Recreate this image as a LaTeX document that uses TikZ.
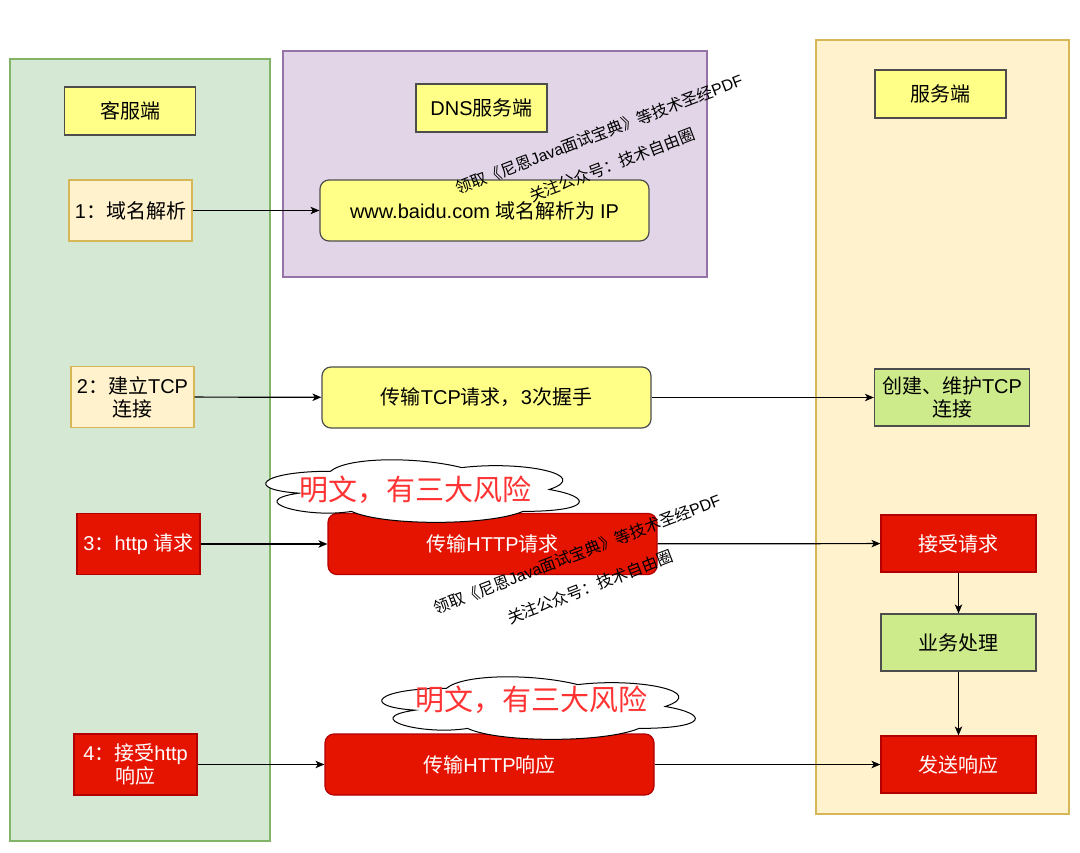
\documentclass[tikz,border=0pt]{standalone}
\usepackage{fontspec}
\setmainfont{Liberation Sans}
\newfontfamily\zhfont{Noto Sans CJK SC}
\XeTeXinterchartokenstate=1
\newXeTeXintercharclass\zhclass
\newcount\zhcode
\newcommand\zhrange[2]{\zhcode=#1
  \loop\XeTeXcharclass\zhcode=\zhclass\ifnum\zhcode<#2\advance\zhcode by 1\repeat}
\zhrange{"3000}{"303F}
\zhrange{"4E00}{"9FFF}
\zhrange{"FF00}{"FFEF}
\XeTeXinterchartoks 0 \zhclass = {\zhfont}
\XeTeXinterchartoks 4095 \zhclass = {\zhfont}
\XeTeXinterchartoks \zhclass 0 = {\rmfamily}
\XeTeXinterchartoks 4095 0 = {\rmfamily}
\usetikzlibrary{arrows.meta}
\definecolor{clientfill}{HTML}{D5E8D4}
\definecolor{clientline}{HTML}{82B366}
\definecolor{dnsfill}{HTML}{E1D5E7}
\definecolor{dnsline}{HTML}{9673A6}
\definecolor{serverfill}{HTML}{FFF2CC}
\definecolor{serverline}{HTML}{D6B656}
\definecolor{headfill}{HTML}{FFFF88}
\definecolor{darkline}{HTML}{4D4D4D}
\definecolor{okgreen}{HTML}{CDEB8B}
\definecolor{riskred}{HTML}{E51400}
\definecolor{riskline}{HTML}{B20000}
\definecolor{warntext}{HTML}{FF3333}

\begin{document}
\begin{tikzpicture}[x=1pt,y=-1pt,line width=1.2pt,
    >={Stealth[length=9pt,width=7.5pt,inset=2.5pt]},
    txt/.style={font=\fontsize{20}{23}\selectfont,inner sep=0pt,align=center},
    headbox/.style={txt,draw=darkline,fill=headfill,minimum width=131pt,minimum height=48pt},
    stepbox/.style={txt,draw=serverline,fill=serverfill,minimum width=123pt,minimum height=61pt},
    pipebox/.style={txt,draw=darkline,fill=headfill,rounded corners=9pt,minimum width=329pt,minimum height=61pt},
    okbox/.style={txt,draw=darkline,fill=okgreen,minimum width=155pt,minimum height=57pt},
    redbox/.style={txt,draw=riskline,fill=riskred,text=white,minimum width=123pt,minimum height=61pt},
    redpipe/.style={redbox,rounded corners=9pt,minimum width=329pt},
    risktext/.style={text=warntext,font=\fontsize{29}{34}\selectfont,inner sep=0pt},
    riskcloud/.pic={
        \filldraw[fill=white,draw=black,line width=1pt] (0.25,0.25)
            .. controls (0.05,0.25) and (0,0.5) .. (0.16,0.55)
            .. controls (0,0.66) and (0.18,0.9) .. (0.31,0.8)
            .. controls (0.4,1) and (0.7,1) .. (0.8,0.8)
            .. controls (1,0.8) and (1,0.6) .. (0.875,0.5)
            .. controls (1,0.3) and (0.8,0.1) .. (0.625,0.2)
            .. controls (0.5,0.05) and (0.3,0.05) .. (0.25,0.25) -- cycle;},
    watermark/.style={font=\fontsize{16}{19}\selectfont,rotate=21,inner sep=0pt},
    link/.style={->,line width=1.2pt,black}]
    \useasboundingbox[fill=white] (0,0) rectangle (1080,853);
    \filldraw[fill=clientfill,draw=clientline] (10,59) rectangle (270,841);
    \filldraw[fill=dnsfill,draw=dnsline] (283,51) rectangle (707,277);
    \filldraw[fill=serverfill,draw=serverline] (816,40) rectangle (1069,814);

    \node[headbox] (client) at (130,111) {客服端};
    \node[headbox] (dns) at (481.5,108) {DNS服务端};
    \node[headbox] (server) at (940.5,94) {服务端};

    \node[stepbox] (step1) at (130.5,210.5) {1：域名解析};
    \node[pipebox] (resolve) at (484.5,210.5) {www.baidu.com 域名解析为 IP};
    \node[stepbox] (step2) at (132.5,397) {2：建立TCP\\连接};
    \node[pipebox] (tcpreq) at (486.5,397.5) {传输TCP请求，3次握手};
    \node[okbox] (tcpkeep) at (952,397.5) {创建、维护TCP\\连接};

    \node[redbox] (step3) at (138.5,544) {3：http 请求};
    \node[redpipe] (httpreq) at (492.5,544) {传输HTTP请求};
    \node[redbox,minimum width=155pt,minimum height=57pt] (recv) at (958.5,543.5) {接受请求};
    \node[okbox] (work) at (958.5,642.5) {业务处理};
    \node[redbox,minimum width=155pt,minimum height=57pt] (send) at (958.5,764.5) {发送响应};
    \node[redbox] (step4) at (135.5,764.5) {4：接受http\\响应};
    \node[redpipe] (httpresp) at (489.5,764.5) {传输HTTP响应};

    \coordinate (cloud1) at (243,453);
    \coordinate (cloud2) at (359,670);
    \pic[x=350pt,y=-73pt] at (cloud1) {riskcloud};
    \pic[x=350pt,y=-73pt] at (cloud2) {riskcloud};
    \node[risktext] (risk1) at (415,490) {明文，有三大风险};
    \node[risktext] (risk2) at (531,700) {明文，有三大风险};

    \draw[link] (step1) -- (resolve);
    \draw[link] (step2) -- (tcpreq);
    \draw[link] (tcpreq) -- (tcpkeep);
    \draw[link] (step3) -- (httpreq);
    \draw[link] (httpreq) -- (recv);
    \draw[link] (recv) -- (work);
    \draw[link] (work) -- (send);
    \draw[link] (step4) -- (httpresp);
    \draw[link] (httpresp) -- (send);

    \node[watermark] (markpdf1) at (599,134) {领取《尼恩Java面试宝典》等技术圣经PDF};
    \node[watermark] (markwx1) at (612,165) {关注公众号：技术自由圈};
    \node[watermark] (markpdf2) at (577,554) {领取《尼恩Java面试宝典》等技术圣经PDF};
    \node[watermark] (markwx2) at (590,587) {关注公众号：技术自由圈};
\end{tikzpicture}
\end{document}
